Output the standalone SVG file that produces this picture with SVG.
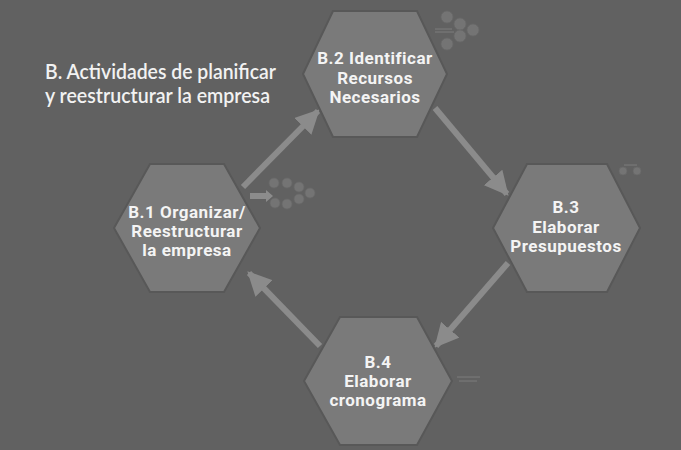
<svg xmlns="http://www.w3.org/2000/svg" width="681" height="450" viewBox="0 0 681 450">
<defs>
<style>
.hex{fill:#7a7a7a;stroke:#585858;stroke-width:2}
.lbl{font-family:Roboto,"Liberation Sans",sans-serif;font-weight:bold;font-size:17px;letter-spacing:0.5px;fill:#f4f4f4;text-anchor:middle}
.title{font-family:Lato,"Open Sans","Liberation Sans",sans-serif;font-weight:600;font-size:21px;fill:#f2f2f2}
.conn{stroke:#8b8b8b;stroke-width:6;fill:none}
.thumb{fill:#858585;stroke:#6e6e6e;stroke-width:0.8}
.tline{stroke:#959595;stroke-width:1}
</style>
<marker id="ah" viewBox="0 0 10 10" refX="9" refY="5" markerWidth="4" markerHeight="4" orient="auto" markerUnits="strokeWidth">
<path d="M0,0 L10,5 L0,10 Z" fill="#8b8b8b"/>
</marker>
</defs>
<rect width="681" height="450" fill="#616161"/>
<g id="title">
<text class="title" x="45" y="79" textLength="231" lengthAdjust="spacingAndGlyphs">B. Actividades de planificar</text>
<text class="title" x="45" y="103" textLength="225" lengthAdjust="spacingAndGlyphs">y reestructurar la empresa</text>
</g>
<g id="connectors">
<line class="conn" x1="243" y1="187" x2="318" y2="111" marker-end="url(#ah)"/>
<line class="conn" x1="435" y1="108" x2="507" y2="194" marker-end="url(#ah)"/>
<line class="conn" x1="508" y1="263" x2="436" y2="346" marker-end="url(#ah)"/>
<line class="conn" x1="320" y1="346" x2="249" y2="273" marker-end="url(#ah)"/>
</g>
<g id="n1">
<polygon class="hex" points="114,228 150,164 224,164 260,228 224,292 150,292"/>
<text class="lbl" x="187" y="218">B.1 Organizar/</text>
<text class="lbl" x="187" y="237">Reestructurar</text>
<text class="lbl" x="187" y="256">la empresa</text>
</g>
<g id="n2">
<polygon class="hex" points="303,74 333,11 417,11 447,74 417,137 333,137"/>
<text class="lbl" x="375" y="64">B.2 Identificar</text>
<text class="lbl" x="375" y="84">Recursos</text>
<text class="lbl" x="375" y="103">Necesarios</text>
</g>
<g id="n3">
<polygon class="hex" points="493,228 527,164 607,164 640,228 607,292 527,292"/>
<text class="lbl" x="566" y="213">B.3</text>
<text class="lbl" x="566" y="233">Elaborar</text>
<text class="lbl" x="566" y="252">Presupuestos</text>
</g>
<g id="n4">
<polygon class="hex" points="304,381 340,317 417,317 452,381 417,445 340,445"/>
<text class="lbl" x="378" y="368">B.4</text>
<text class="lbl" x="378" y="387">Elaborar</text>
<text class="lbl" x="378" y="406">cronograma</text>
</g>
<g id="thumbs" opacity="0.55">
<circle class="thumb" cx="447" cy="17" r="6"/>
<circle class="thumb" cx="460" cy="24" r="6"/>
<circle class="thumb" cx="473" cy="30" r="6"/>
<circle class="thumb" cx="460" cy="36" r="6"/>
<circle class="thumb" cx="447" cy="44" r="6"/>
<line class="tline" x1="435" y1="29" x2="452" y2="29"/>
<line class="tline" x1="435" y1="32" x2="454" y2="32"/>
<polygon points="250,193 266,193 266,190 273,196 266,202 266,199 250,199" fill="#b0b0b0"/>
<circle class="thumb" cx="274" cy="183" r="5"/>
<circle class="thumb" cx="287" cy="183" r="5"/>
<circle class="thumb" cx="299" cy="187" r="5"/>
<circle class="thumb" cx="310" cy="193" r="5"/>
<circle class="thumb" cx="299" cy="199" r="5"/>
<circle class="thumb" cx="287" cy="204" r="5"/>
<circle class="thumb" cx="275" cy="203" r="5"/>
<line class="tline" x1="624" y1="165" x2="637" y2="165"/>
<circle class="thumb" cx="623" cy="171" r="4"/>
<circle class="thumb" cx="637" cy="171" r="4"/>
<line class="tline" x1="457" y1="377" x2="480" y2="377"/>
<line class="tline" x1="459" y1="381" x2="477" y2="381"/>
</g>
</svg>
